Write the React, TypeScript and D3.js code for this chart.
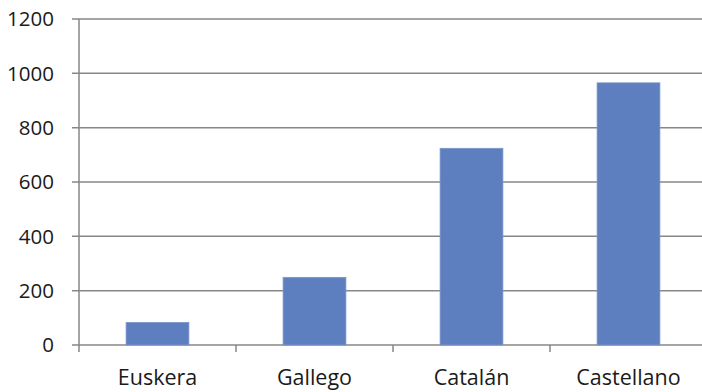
import React from "react";
import * as d3 from "d3";

const categories = ["Euskera", "Gallego", "Catalán", "Castellano"];
const values = [83, 249, 724, 965];
const yTicks = [0, 200, 400, 600, 800, 1000, 1200];

const W = 702;
const H = 392;
const margin = { left: 79, right: -5, top: 19, bottom: 47 };

export default function App() {
  const x = d3
    .scaleBand<string>()
    .domain(categories)
    .range([margin.left, W - margin.right])
    .paddingInner(0.6)
    .paddingOuter(0.3);
  const xEdges = d3
    .scaleBand<string>()
    .domain(categories)
    .range([margin.left, W - margin.right]);
  const y = d3
    .scaleLinear()
    .domain([0, 1200])
    .range([H - margin.bottom, margin.top]);

  const grid = "#878787";
  const font = "'Open Sans', 'DejaVu Sans', sans-serif";

  return (
    <svg
      width={W}
      height={H}
      style={{ position: "absolute", left: 0, top: 0, background: "#fff" }}
    >
      {/* horizontal gridlines and y ticks */}
      {yTicks.map((t) => (
        <g key={t}>
          <line
            x1={margin.left - 7}
            x2={W - margin.right}
            y1={y(t)}
            y2={y(t)}
            stroke={grid}
            strokeWidth={1.5}
          />
          <text
            x={54}
            y={y(t)}
            dy="0.36em"
            textAnchor="end"
            fontFamily={font}
            fontSize={20.5}
            fill="#1a1a1a"
          >
            {t}
          </text>
        </g>
      ))}
      {/* y axis */}
      <line
        x1={margin.left}
        x2={margin.left}
        y1={y(1200)}
        y2={y(0) + 7}
        stroke={grid}
        strokeWidth={1.5}
      />
      {/* category boundary ticks */}
      {categories.map((c) => (
        <line
          key={c}
          x1={(xEdges(c) ?? 0) + xEdges.bandwidth()}
          x2={(xEdges(c) ?? 0) + xEdges.bandwidth()}
          y1={y(0)}
          y2={y(0) + 7}
          stroke={grid}
          strokeWidth={1.5}
        />
      ))}
      {/* bars */}
      {categories.map((c, i) => (
        <rect
          key={c}
          x={x(c)}
          y={y(values[i])}
          width={x.bandwidth()}
          height={y(0) - y(values[i])}
          fill="#5d7ebf"
          stroke="#7b96cb"
          strokeWidth={0.8}
        />
      ))}
      {/* category labels */}
      {categories.map((c) => (
        <text
          key={c}
          x={(xEdges(c) ?? 0) + xEdges.bandwidth() / 2}
          y={385}
          textAnchor="middle"
          fontFamily={font}
          fontSize={21.5}
          fill="#1a1a1a"
        >
          {c}
        </text>
      ))}
    </svg>
  );
}
